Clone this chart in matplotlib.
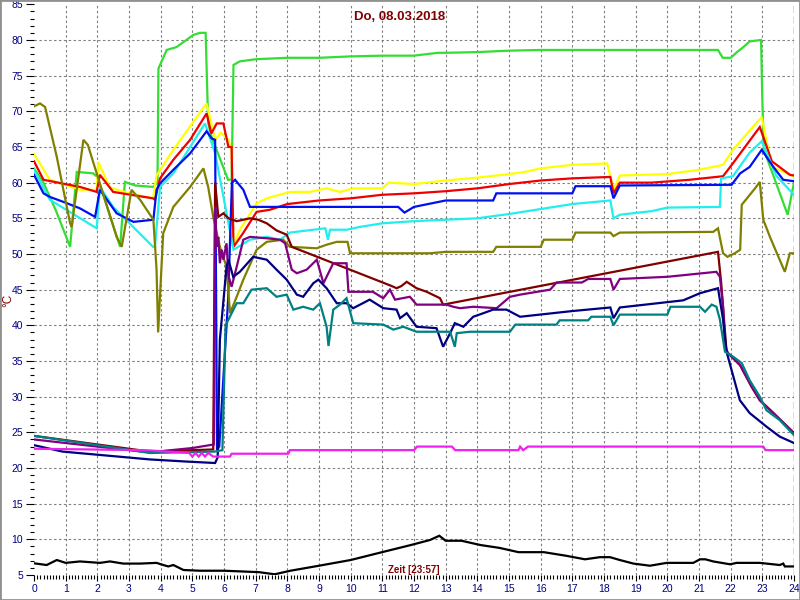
import matplotlib
matplotlib.use("Agg")
import matplotlib.pyplot as plt
from matplotlib.patches import Rectangle
from matplotlib.ticker import MultipleLocator

plt.rcParams['font.family'] = ['Liberation Sans', 'DejaVu Sans']

title = "Do, 08.03.2018"
xlabel = "Zeit [23:57]"
ylabel = "°C"

# ---------------- data (hour of day, °C) ----------------
t_green = [0, 0.3, 0.7, 1.14, 1.35, 1.87, 2.0, 2.72, 2.87, 3.2, 3.76, 3.9, 3.93, 4.19, 4.5, 5.03, 5.24, 5.42, 5.5, 5.6, 6.13, 6.24, 6.3, 6.5, 7.0, 8.0, 9.0, 10.0, 11.0, 12.0, 12.75, 13.0, 14.0, 15.0, 16.0, 17.0, 18.0, 19.0, 20.0, 21.0, 21.6, 21.75, 22.0, 22.2, 22.4, 22.6, 22.96, 23.0, 23.05, 23.8, 24.0]
v_green = [62, 60, 56, 51, 61.5, 61.3, 60.8, 51, 60.1, 59.6, 59.4, 60, 76, 78.6, 79, 80.7, 81, 81, 68.4, 66.5, 60.4, 60.4, 76.5, 77, 77.3, 77.5, 77.5, 77.7, 77.8, 77.8, 78.2, 78.2, 78.3, 78.5, 78.6, 78.6, 78.6, 78.6, 78.6, 78.6, 78.6, 77.5, 77.5, 78.3, 79, 79.8, 80, 71.6, 64.6, 55.5, 60]

t_yellow = [0, 0.5, 1.45, 1.98, 2.03, 2.4, 3.0, 3.76, 3.87, 4.4, 4.93, 5.45, 5.72, 5.9, 6.14, 6.24, 6.3, 6.5, 7.03, 7.35, 8.08, 8.71, 9.24, 9.66, 10.08, 11.0, 11.2, 12.0, 13.0, 14.0, 15.0, 15.5, 16.0, 17.0, 18.1, 18.3, 18.5, 20.0, 21.0, 21.76, 22.07, 22.82, 22.98, 23.3, 23.87, 24.0]
v_yellow = [64, 60.4, 59, 59, 62.9, 59.3, 58.5, 57.8, 61, 64.6, 67.9, 71.1, 66, 67, 66, 64.6, 51, 53.4, 57.1, 57.8, 58.7, 58.7, 59.2, 58.7, 59.2, 59.2, 60, 59.8, 60.3, 60.7, 61.2, 61.5, 62, 62.5, 62.7, 59, 61, 61.2, 61.8, 62.5, 64.6, 68.4, 69.2, 62.2, 61.1, 60.9]

t_red = [0, 0.3, 1.45, 1.98, 2.08, 2.5, 3.76, 3.82, 3.98, 4.4, 4.93, 5.45, 5.6, 5.77, 5.98, 6.14, 6.24, 6.3, 6.6, 7.03, 7.45, 8.0, 9.0, 10.0, 11.0, 12.0, 13.0, 14.0, 15.0, 16.0, 17.0, 18.2, 18.3, 18.5, 19.5, 20.7, 21.76, 22.07, 22.92, 23.3, 23.87, 24.0]
v_red = [63, 60.4, 59.4, 58.7, 61.1, 58.7, 57.8, 57.6, 60.6, 63.2, 66, 69.7, 66.9, 68.3, 68.3, 65, 65, 51, 52.9, 55.9, 56.2, 57, 57.5, 57.8, 58.3, 58.5, 58.8, 59.2, 59.8, 60.3, 60.6, 60.8, 58.5, 60, 60, 60.4, 60.9, 62.7, 67.8, 63, 61.1, 61]

t_cyan = [0, 0.5, 1.98, 2.08, 2.5, 3.76, 3.82, 3.98, 4.4, 4.93, 5.4, 5.72, 6.3, 6.82, 7.35, 7.77, 8.08, 9.2, 9.28, 9.35, 9.87, 10.3, 11.0, 12.0, 13.0, 14.0, 15.0, 16.0, 17.0, 18.2, 18.3, 18.5, 19.5, 20.0, 21.66, 21.7, 22.07, 22.6, 22.98, 23.45, 24.0]
v_cyan = [61.8, 57.6, 53.6, 59.4, 56.6, 51, 51, 59.4, 61.3, 65, 68.3, 64.1, 50.6, 52, 52.4, 52, 53, 53.6, 52, 53.4, 53.4, 53.8, 54.3, 54.6, 54.8, 55, 55.6, 56.3, 57, 57.5, 55, 55.5, 56, 56.5, 56.6, 60.6, 60.9, 64.2, 65.8, 60.9, 58.3]

t_blue = [0, 0.3, 0.5, 0.93, 1.45, 1.93, 2.08, 2.61, 3.14, 3.77, 3.87, 3.98, 4.4, 4.93, 5.45, 5.61, 5.72, 5.78, 5.85, 6.13, 6.25, 6.35, 6.61, 6.82, 10.5, 11.5, 11.7, 12.0, 13.0, 14.5, 14.6, 17.0, 17.1, 18.2, 18.3, 18.5, 22.03, 22.3, 22.6, 22.98, 23.35, 23.66, 24.0]
v_blue = [61.1, 58.5, 58, 57.3, 56.4, 55.2, 59, 55.7, 54.5, 54.8, 59, 59.9, 61.8, 64.1, 67.2, 66.2, 66, 22.5, 23, 43.6, 60, 60.4, 59, 56.6, 56.6, 56.6, 55.8, 56.6, 57.5, 57.5, 58.5, 58.5, 59.5, 59.5, 57.8, 59.6, 59.7, 61.3, 62.2, 64.6, 62.2, 60.4, 60.2]

t_olive = [0, 0.19, 0.35, 0.72, 1.14, 1.19, 1.56, 1.7, 1.98, 2.61, 2.77, 3.08, 3.35, 3.77, 3.87, 3.92, 4.08, 4.4, 4.93, 5.35, 5.5, 5.66, 5.87, 6.08, 6.19, 6.4, 6.61, 7.03, 7.35, 7.87, 8.08, 8.93, 9.24, 9.56, 9.9, 9.98, 12.5, 13.0, 14.5, 14.6, 16.0, 16.1, 17.0, 17.1, 18.2, 18.3, 18.5, 21.45, 21.6, 21.76, 21.9, 22.13, 22.3, 22.35, 22.77, 22.92, 23.03, 23.24, 23.71, 23.87, 24.0]
v_olive = [70.7, 71.1, 70.6, 63.6, 54.3, 53.8, 66, 65.3, 61.3, 52.4, 51, 59, 57.6, 54.8, 47.8, 39, 52.9, 56.6, 59.4, 62, 59.4, 55.2, 51, 48.2, 41.7, 44, 46.4, 50.6, 51.7, 52, 51, 50.8, 51.3, 51.7, 51.7, 50.1, 50.1, 50.3, 50.3, 51, 51, 52, 52, 53, 53, 52.5, 53, 53.1, 53.6, 50.1, 49.6, 50.1, 50.6, 56.9, 59.2, 60.1, 54.8, 52.4, 47.5, 50.1, 50.1]

t_maroon = [0, 2.0, 3.66, 5.66, 5.72, 5.82, 5.98, 6.14, 6.4, 6.61, 6.82, 7.08, 7.35, 7.66, 7.98, 8.14, 11.3, 11.45, 11.6, 11.77, 12.08, 12.4, 12.82, 12.92, 21.6, 21.7, 21.87, 22.3, 22.66, 22.92, 23.35, 24.0]
v_maroon = [24.5, 23.3, 22.3, 22.6, 60, 55.2, 55.7, 55, 54.6, 54.8, 55, 54.8, 54.3, 53.3, 52.7, 51, 45.5, 45.2, 45.5, 46.1, 45.2, 44.7, 43.8, 42.9, 50.3, 46, 36.3, 34.4, 31.4, 29.5, 27.7, 24.9]

t_purple = [0, 2.0, 3.66, 5.0, 5.68, 5.72, 5.77, 5.82, 5.87, 5.93, 5.98, 6.08, 6.14, 6.24, 6.4, 6.61, 6.82, 7.35, 7.77, 7.93, 8.14, 8.3, 8.61, 8.93, 9.14, 9.45, 9.87, 9.93, 10.7, 11.03, 11.24, 11.4, 11.87, 12.08, 13.03, 13.24, 13.45, 13.87, 14.61, 15.03, 15.35, 16.3, 16.5, 17.3, 17.5, 18.2, 18.3, 18.5, 20.0, 21.55, 21.66, 21.76, 21.82, 21.92, 22.3, 22.66, 22.92, 23.35, 24.0]
v_purple = [24.0, 23.0, 22.2, 22.8, 23.3, 56.6, 51, 52.4, 48.7, 50.6, 49.2, 51.5, 47, 45.4, 48.2, 52, 52.4, 52.2, 52, 51.5, 47.8, 47.3, 47.8, 49.2, 45.9, 48.7, 48.7, 44.7, 44.7, 43.8, 45, 43.6, 44, 42.9, 42.9, 42.6, 42.4, 42.6, 42.4, 44, 44.3, 45, 46, 46, 46.5, 46.5, 45, 46.5, 46.8, 47.5, 46.8, 42.6, 37, 36.1, 34.4, 31.4, 29.5, 27.7, 24.9]

t_navy = [0, 0.9, 3.66, 4.82, 5.72, 5.8, 5.87, 6.08, 6.14, 6.29, 6.5, 6.92, 7.35, 7.66, 7.98, 8.3, 8.5, 8.82, 8.98, 9.24, 9.56, 9.87, 10.08, 10.6, 11.03, 11.45, 11.56, 11.77, 12.08, 12.71, 12.92, 13.14, 13.29, 13.56, 13.87, 14.19, 14.5, 14.92, 15.35, 17.0, 18.2, 18.3, 18.5, 20.5, 21.03, 21.6, 21.76, 21.87, 22.03, 22.29, 22.6, 23.13, 23.55, 24.0]
v_navy = [23.2, 22.3, 21.2, 20.9, 20.7, 21.5, 38, 48.2, 49.2, 46.8, 47.5, 49.6, 49.2, 47.8, 46.4, 44.3, 44, 45.9, 46.4, 45.2, 43.1, 43.1, 42.4, 43.6, 42.4, 42.2, 41, 41.7, 39.8, 39.6, 37, 38.9, 40.3, 39.8, 41.2, 41.7, 42.2, 42.2, 41.2, 42, 42.5, 41, 42.5, 43.5, 44.5, 45.2, 40.8, 36.3, 33.7, 29.5, 27.7, 25.8, 24.4, 23.5]

t_teal = [0, 2.0, 3.66, 5.7, 5.95, 6.05, 6.4, 6.61, 6.87, 7.35, 7.66, 7.98, 8.19, 8.5, 8.82, 9.03, 9.24, 9.3, 9.45, 9.66, 9.87, 10.08, 11.03, 11.35, 11.66, 12.08, 13.14, 13.29, 13.35, 13.77, 15.03, 15.2, 16.5, 16.6, 17.5, 17.6, 18.2, 18.3, 18.5, 20.0, 20.1, 21.03, 21.19, 21.4, 21.55, 21.66, 21.82, 22.08, 22.35, 22.6, 22.92, 23.13, 23.55, 24.0]
v_teal = [24.5, 23.2, 22.1, 22.3, 22.5, 40, 43.1, 43.1, 45, 45.2, 44, 44.3, 42.2, 42.6, 42.2, 43.1, 39.8, 37.1, 42.2, 42.9, 43.8, 40.3, 40.1, 39.4, 39.8, 39.1, 39.1, 37, 38.9, 39.1, 39.1, 40.1, 40.1, 40.7, 40.7, 41.2, 41.2, 40, 41.5, 41.5, 42.6, 42.6, 41.9, 42.9, 42.6, 40.8, 36.3, 35.6, 34.7, 32.3, 30, 28.1, 26.7, 24.6]

t_magenta = [0, 3.5, 4.9, 5.0, 5.1, 5.2, 5.3, 5.4, 5.5, 5.66, 6.19, 6.24, 8.03, 8.08, 12.0, 12.1, 13.2, 13.3, 15.3, 15.35, 15.45, 15.6, 23.03, 23.1, 24.0]
v_magenta = [22.7, 22.5, 22.1, 21.6, 22.1, 21.6, 22.1, 21.6, 22.1, 21.6, 21.6, 22.0, 22.0, 22.5, 22.5, 23.0, 23.0, 22.5, 22.5, 23.0, 22.5, 23.0, 23.0, 22.5, 22.5]

t_black = [0, 0.4, 0.72, 1.0, 1.45, 2.08, 2.4, 2.82, 3.35, 3.87, 4.08, 4.24, 4.4, 4.72, 5.24, 6.0, 7.1, 7.6, 8.1, 9.0, 10.0, 10.9, 11.9, 12.5, 12.8, 13.0, 13.5, 14.1, 14.7, 15.3, 16.1, 16.8, 17.4, 17.87, 18.19, 18.5, 18.93, 19.45, 19.98, 20.82, 21.03, 21.2, 21.45, 21.98, 22.19, 22.92, 23.55, 23.66, 23.71, 24.0]
v_black = [6.64, 6.4, 7.1, 6.7, 6.9, 6.7, 6.9, 6.6, 6.6, 6.7, 6.4, 6.2, 6.4, 5.7, 5.6, 5.6, 5.4, 5.1, 5.6, 6.3, 7.1, 8.1, 9.2, 9.9, 10.5, 9.8, 9.8, 9.2, 8.8, 8.2, 8.2, 7.7, 7.2, 7.5, 7.5, 7.1, 6.6, 6.3, 6.7, 6.7, 7.2, 7.2, 6.9, 6.5, 6.7, 6.7, 6.4, 6.6, 6.2, 6.2]

series = [
    (t_green, v_green, '#33DD33'),
    (t_yellow, v_yellow, '#FFFF00'),
    (t_red, v_red, '#EE0000'),
    (t_cyan, v_cyan, '#22EEEE'),
    (t_blue, v_blue, '#0010EE'),
    (t_olive, v_olive, '#808000'),
    (t_maroon, v_maroon, '#800000'),
    (t_purple, v_purple, '#800080'),
    (t_navy, v_navy, '#000080'),
    (t_teal, v_teal, '#008080'),
    (t_magenta, v_magenta, '#EE22EE'),
    (t_black, v_black, '#000000'),
]

x_major = list(range(0, 25))
y_major = list(range(5, 90, 5))

fig = plt.figure(figsize=(8, 6), dpi=100)
fig.patch.set_facecolor('white')
ax = fig.add_axes([34 / 800, 25 / 600, 760 / 800, 570.7 / 600])
ax.set_xlim(0, 24)
ax.set_ylim(5, 85)
for s in ax.spines.values():
    s.set_visible(False)

# grid
ax.vlines(x_major[1:-1], 5, 85, colors='#808080', linestyles=(0, (2.2, 2.2)), linewidth=0.8, zorder=0)
ax.hlines(y_major[1:-1], 0, 24, colors='#808080', linestyles=(0, (2.2, 2.2)), linewidth=0.8, zorder=0)
ax.axvline(24, color='#008000', linestyle=(0, (5, 2.5)), linewidth=1.0, zorder=1)

for t, v, c in series:
    ax.plot(t, v, color=c, linewidth=1.6, solid_joinstyle='miter', zorder=2)

ax.set_xticks(x_major)
ax.set_yticks(y_major)
ax.xaxis.set_minor_locator(MultipleLocator(0.1))
ax.yaxis.set_minor_locator(MultipleLocator(1))
ax.tick_params(axis='both', which='major', colors='black', labelcolor='#000080', labelsize=7.5, width=0.8)
ax.tick_params(axis='y', which='major', length=6, pad=2)
ax.tick_params(axis='y', which='minor', length=3, width=0.8)
ax.tick_params(axis='x', which='major', length=4.5, pad=2)
ax.tick_params(axis='x', which='minor', length=3, width=0.8)

fig.text(0.5, 1 - 17.5 / 600, title, ha='center', va='center', fontsize=9.5,
         fontweight='bold', color='#800000')
fig.text(414 / 800, 1 - 570 / 600, xlabel, ha='center', va='center', fontsize=7,
         fontweight='bold', color='#800000')
fig.text(8 / 800, 0.5, ylabel, ha='center', va='center', fontsize=8.5,
         rotation=90, color='#800000')

fig.add_artist(Rectangle((0, 0), 1, 1, transform=fig.transFigure, fill=False,
                         edgecolor='#909090', linewidth=2))

fig.savefig('out.png', dpi=100)
